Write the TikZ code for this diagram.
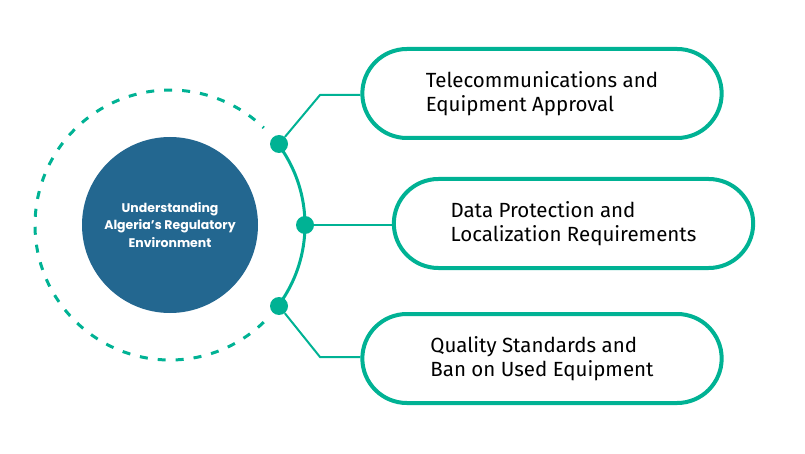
\documentclass[tikz,border=0pt]{standalone}
\usepackage{fontspec}
\setmainfont{Fira Sans}
\newfontfamily\corefont{Poppins}
\usetikzlibrary{shapes.misc}
\definecolor{teal}{HTML}{00B294}
\definecolor{navy}{HTML}{236790}
\tikzset{
  pill/.style={rounded rectangle, draw=teal, line width=4pt, fill=white,
    minimum width=366pt, minimum height=89pt, align=left,
    font=\fontsize{20.5}{24}\selectfont},
  joint/.style={circle, fill=teal, inner sep=0pt, minimum size=18pt},
  link/.style={draw=teal, line width=2pt}
}

\begin{document}
\begin{tikzpicture}[x=1pt, y=-1pt]
	%%%%% START %%%%%
	\useasboundingbox (0, 0) rectangle (805, 454);
	
	% dashed ring and solid arc
	\draw[teal, line width=3pt, dash pattern=on 8pt off 10pt] (170, 225) ++(46:135) arc (46:314:135);
	\draw[teal, line width=3pt] (170, 225) ++(36.6:135) arc (36.6:-36.6:135);
	
	\node[circle, fill=navy, minimum size=176pt, inner sep=0pt, text=white, align=center,
		font=\corefont\bfseries\fontsize{12.5}{17.5}\selectfont] (core) at (170, 225)
		{Understanding\\Algeria’s Regulatory\\Environment};
	
	\node[pill] (telecom) at (542, 93.5) {Telecommunications and\\Equipment Approval};
	\node[pill] (dataloc) at (573.5, 223.5) {Data Protection and\\Localization Requirements};
	\node[pill] (quality) at (542, 358.5) {Quality Standards and\\Ban on Used Equipment};
	
	\node[joint] (j1) at (279, 144) {};
	\node[joint] (j2) at (305, 225) {};
	\node[joint] (j3) at (279, 306) {};
	
	\coordinate (k1) at (320, 95);
	\coordinate (k3) at (320, 357);
	
	\draw[link] (j1) -- (k1) -- (k1 -| telecom.west);
	\draw[link] (j2) -- (j2 -| dataloc.west);
	\draw[link] (j3) -- (k3) -- (k3 -| quality.west);
	%%%%% END %%%%%
\end{tikzpicture}
\end{document}
